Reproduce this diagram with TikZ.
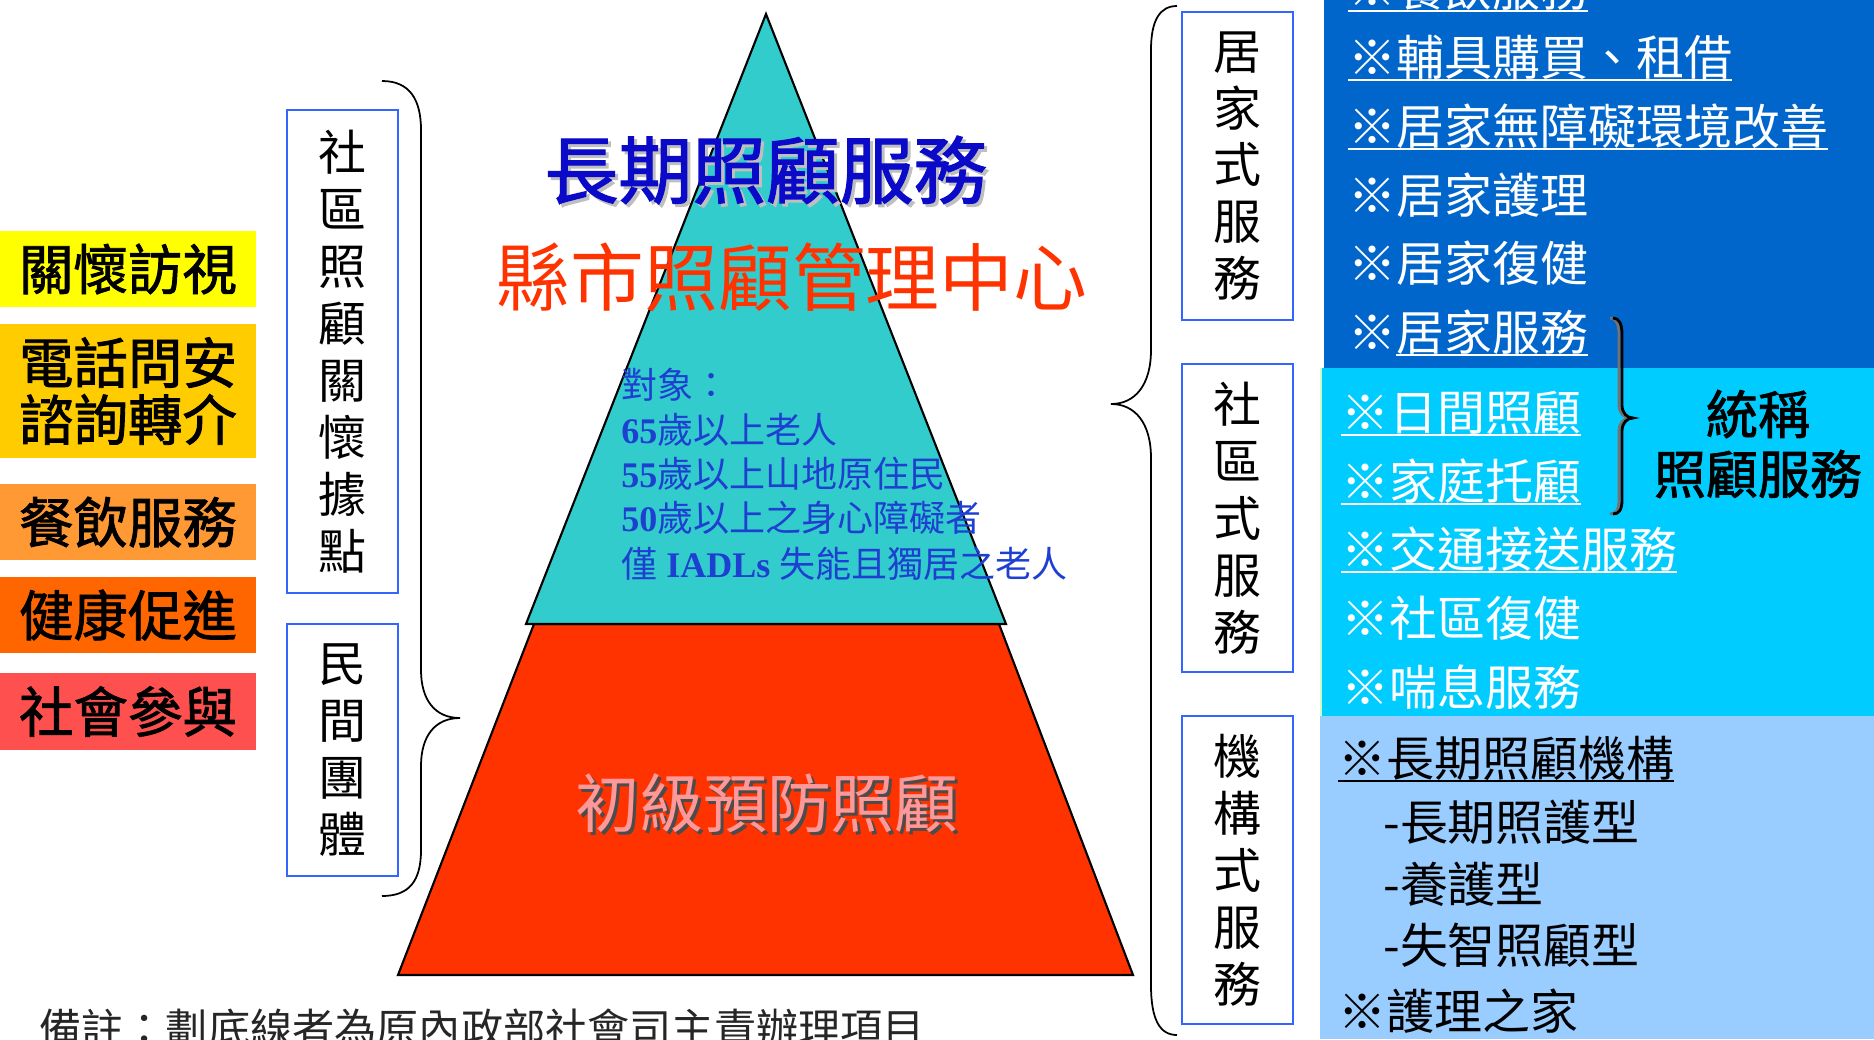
\documentclass[tikz,border=0pt]{standalone}
\usepackage{fontspec}
\setmainfont{Liberation Serif}
\newfontfamily\cjk{Noto Sans CJK TC}
\newfontfamily\cjkmed[FakeBold=1.6]{Noto Sans CJK TC}
\usetikzlibrary{positioning}
\definecolor{pyrteal}{HTML}{33CCCC}
\definecolor{pyrred}{HTML}{FF3300}
\definecolor{homeblue}{HTML}{0066CC}
\definecolor{commcyan}{HTML}{00CCFF}
\definecolor{instblue}{HTML}{99CCFF}
\definecolor{edgegreen}{HTML}{CCFFCC}
\definecolor{boxblue}{HTML}{3366FF}
\definecolor{visitcol}{HTML}{FFFF00}
\definecolor{callcol}{HTML}{FFCC00}
\definecolor{mealcol}{HTML}{FF9933}
\definecolor{healthcol}{HTML}{FF6600}
\definecolor{socialcol}{HTML}{FF5050}
\definecolor{titleblue}{HTML}{0A0AC8}
\definecolor{targetblue}{HTML}{1E40D0}
\definecolor{primpink}{HTML}{FF9999}
\newsavebox{\ulbox}
\newcommand{\undl}[1]{\sbox{\ulbox}{#1}\rlap{\rule[-3.6pt]{\wd\ulbox}{1.3pt}}\usebox{\ulbox}}

\begin{document}
\begin{tikzpicture}[x=0.02cm, y=-0.02cm,
		vbox/.style={draw=boxblue, line width=1pt, fill=white, minimum width=2.22cm, align=center, inner sep=0pt, font=\cjk\fontsize{27.3}{32.4}\selectfont},
		tagbox/.style={minimum width=5.12cm, inner sep=0pt, align=center, font=\cjkmed\fontsize{31}{32.4}\selectfont},
		item/.style={anchor=base west, inner sep=0pt, font=\cjk\fontsize{27.3}{32}\selectfont},
		target/.style={anchor=base west, inner sep=0pt, text=targetblue, font=\fontsize{20.5}{24}\selectfont},
		bigtitle/.style={inner sep=0pt, font=\cjk\fontsize{42}{48}\selectfont},
	]
	\useasboundingbox (0,0) rectangle (1874,1039);
	% service panels on the right
	\fill[homeblue] (1324,0) rectangle (1874,368);
	\fill[commcyan] (1320,368) rectangle (1874,716);
	\fill[instblue] (1320,716) rectangle (1874,1039);
	\draw[edgegreen, line width=1.5pt] (1321,368) -- (1321,716);

	% pyramid
	\filldraw[fill=pyrred, line width=1.2pt] (534,624) -- (999,624) -- (1133,975) -- (398,975) -- cycle;
	\filldraw[fill=pyrteal, line width=1.2pt] (766,14) -- (1006,624) -- (526,624) -- cycle;

	% braces
	\draw[line width=1pt] (382,81) .. controls (410,81) and (421,100) .. (421,130) -- (421,670)
		.. controls (421,700) and (435,718) .. (460,718) .. controls (435,718) and (421,736) .. (421,766)
		-- (421,850) .. controls (421,880) and (410,896) .. (382,896);
	\draw[line width=1pt] (1177,6) .. controls (1160,6) and (1151,20) .. (1151,50) -- (1151,350)
		.. controls (1151,385) and (1135,404) .. (1111,404) .. controls (1135,404) and (1151,423) .. (1151,458)
		-- (1151,985) .. controls (1151,1020) and (1160,1035) .. (1177,1035);
	\foreach \dx/\col in {-3/black!55, 0/black}
		\draw[\col, line width=1.6pt, xshift=\dx*0.02cm] (1613,318) .. controls (1619,318) and (1622,324) .. (1622,334) -- (1622,405)
			.. controls (1622,413) and (1627,418) .. (1633,418) .. controls (1627,418) and (1622,423) .. (1622,431)
			-- (1622,500) .. controls (1622,510) and (1619,514) .. (1613,514);

	% left tags
	\node[tagbox, fill=visitcol, minimum height=1.52cm] (visit) at (128,269) {關懷訪視};
	\node[tagbox, fill=callcol, minimum height=2.68cm] (call) at (128,391) {電話問安\\諮詢轉介};
	\node[tagbox, fill=mealcol, minimum height=1.52cm] (meal) at (128,522) {餐飲服務};
	\node[tagbox, fill=healthcol, minimum height=1.52cm] (health) at (128,615) {健康促進};
	\node[tagbox, fill=socialcol, minimum height=1.54cm] (social) at (128,711.5) {社會參與};

	% vertical boxes
	\node[vbox, minimum height=9.66cm] (carebox) at (342.5,351.5) {社\\區\\照\\顧\\關\\懷\\據\\點};
	\node[vbox, minimum height=5.04cm] (ngobox) at (342.5,750) {民\\間\\團\\體};
	\node[vbox, minimum height=6.16cm] (homebox) at (1237.5,166) {居\\家\\式\\服\\務};
	\node[vbox, minimum height=6.16cm] (commbox) at (1237.5,518) {社\\區\\式\\服\\務};
	\node[vbox, minimum height=6.16cm] (instbox) at (1237.5,870) {機\\構\\式\\服\\務};

	% pyramid texts
	\node[bigtitle, text=black!25, font=\cjkmed\fontsize{42}{48}\selectfont] (ltcshadow) at (769,173) {長期照顧服務};
	\node[bigtitle, text=titleblue, font=\cjkmed\fontsize{42}{48}\selectfont] (ltc) at (766,170) {長期照顧服務};
	\node[bigtitle, text=pyrred] (mgmt) at (792,277) {縣市照顧管理中心};
	\node[target] (tg0) at (621,398) {\cjk 對象：};
	\node[target] (tg1) at (621,443) {\textbf{65}{\cjk 歲以上老人}};
	\node[target] (tg2) at (621,487) {\textbf{55}{\cjk 歲以上山地原住民}};
	\node[target] (tg3) at (621,531) {\textbf{50}{\cjk 歲以上之身心障礙者}};
	\node[target] (tg4) at (621,577) {{\cjk 僅} \textbf{IADLs} {\cjk 失能且獨居之老人}};
	\node[bigtitle, text=black!70, font=\cjk\fontsize{36.4}{40}\selectfont] (primshadow) at (770,806) {初級預防照顧};
	\node[bigtitle, text=primpink, font=\cjk\fontsize{36.4}{40}\selectfont] (prim) at (767,803) {初級預防照顧};

	% home services
	\node[item, text=white] (h0) at (1348,6) {\undl{※餐飲服務}};
	\node[item, text=white] (h1) at (1348,75) {\undl{※輔具購買、租借}};
	\node[item, text=white] (h2) at (1348,144) {\undl{※居家無障礙環境改善}};
	\node[item, text=white] (h3) at (1348,213) {※居家護理};
	\node[item, text=white] (h4) at (1348,281) {※居家復健};
	\node[item, text=white] (h5) at (1348,350) {※\undl{居家服務}};
	% community services
	\node[item, text=white] (c1) at (1341,430) {\undl{※日間照顧}};
	\node[item, text=white] (c2) at (1341,499) {\undl{※家庭托顧}};
	\node[item, text=white] (c3) at (1341,567) {\undl{※交通接送服務}};
	\node[item, text=white] (c4) at (1341,636) {※社區復健};
	\node[item, text=white] (c5) at (1341,705) {※喘息服務};
	% institutional services
	\node[item, text=black] (i1) at (1338,776) {\undl{※長期照顧機構}};
	\node[item, text=black] (i2) at (1383,840) {-長期照護型};
	\node[item, text=black] (i3) at (1383,902) {-養護型};
	\node[item, text=black] (i4) at (1383,963) {-失智照顧型};
	\node[item, text=black] (i5) at (1338,1029) {※護理之家};

	\node[inner sep=0pt, font=\cjkmed\fontsize{29.6}{32}\selectfont] (gen1) at (1758,414) {統稱};
	\node[inner sep=0pt, font=\cjkmed\fontsize{29.6}{32}\selectfont] (gen2) at (1758,474) {照顧服務};

	\node[anchor=base west, inner sep=0pt, text=black!85, font=\cjk\fontsize{24}{28}\selectfont] (note) at (39,1044) {備註：劃底線者為原內政部社會司主責辦理項目};
\end{tikzpicture}
\end{document}
